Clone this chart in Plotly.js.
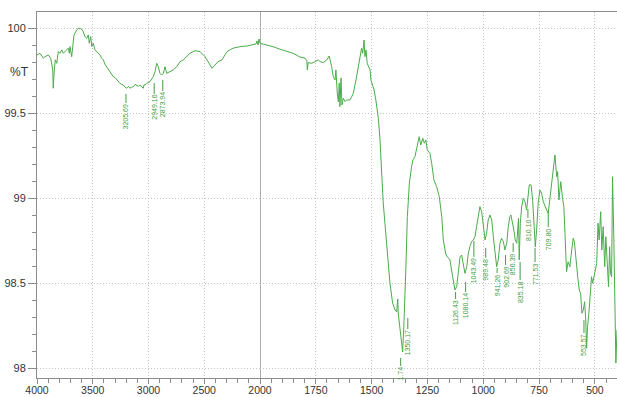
<!DOCTYPE html>
<html>
<head>
<meta charset="utf-8">
<script src="https://cdn.plot.ly/plotly-3.0.1.min.js"></script>
<style>html,body{margin:0;padding:0;background:#fff;}#chart{width:617px;height:397px;}</style>
</head>
<body>
<div id="chart"></div>
<script>
// Wavenumber (cm-1) and %T
const wavenumber = [
  4000,3973,3943,3928,3899,3877,3859,3854,3845,3836,
  3823,3809,3794,3778,3764,3749,3734,3719,3710,3704,
  3689,3680,3668,3644,3630,3614,3599,3585,3570,3554,
  3540,3531,3518,3509,3495,3480,3465,3450,3435,3420,
  3405,3390,3375,3360,3345,3330,3316,3300,3285,3270,
  3256,3240,3226,3210,3196,3180,3166,3150,3136,3120,
  3106,3090,3076,3060,3047,3040,3031,3016,3000,2987,
  2957,2942,2926,2912,2897,2882,2867,2852,2837,2807,
  2778,2747,2717,2688,2657,2628,2583,2538,2493,2466,
  2430,2403,2377,2341,2296,2242,2179,2116,2063,2036,
  2027,2018,2009,2000,
  1969,1942,1910,1879,1852,1821,1798,1790,1788,1784,
  1768,1754,1739,1731,1717,1701,1690,1679,1672,1664,
  1660,1654,1649,1645,1642,1637,1633,1627,1619,1612,
  1597,1589,1582,1570,1560,1552,1545,1540,1534,1530,
  1525,1520,1515,1507,1503,1495,1489,1481,1470,1463,
  1455,1448,1433,1418,1406,1395,1388,1383,1381,1373,
  1365,1361,1355,1351,1346,1340,1331,1321,1315,1306,
  1296,1287,1280,1271,1264,1257,1251,1239,1231,1221,
  1209,1197,1186,1179,1167,1157,1149,1142,1135,1127,
  1119,1112,1104,1097,1090,1082,1074,1067,1060,1052,
  1045,1037,1030,1022,1015,1007,1000,992,985,978,
  970,962,955,948,940,933,925,918,910,903,
  895,888,881,876,869,863,857,850,846,842,
  839,834,828,821,813,806,801,794,786,779,
  772,767,761,754,746,739,731,724,716,709,
  701,694,686,679,671,667,661,653,645,639,
  634,627,620,612,604,597,592,585,577,570,
  564,558,552,546,541,537,533,527,522,515,
  510,504,497,492,486,481,474,469,463,456,
  451,445,439,434,430,425,421,415,410,406,
  401
];
const transmittance = [
  99.845,99.855,99.826,99.835,99.845,99.826,99.757,99.649,99.757,99.816,
  99.796,99.865,99.855,99.875,99.855,99.865,99.875,99.885,99.855,99.894,
  99.835,99.914,99.963,99.992,100.002,100.002,99.996,99.982,99.953,99.943,
  99.963,99.914,99.953,99.894,99.914,99.875,99.865,99.855,99.845,99.826,
  99.816,99.790,99.776,99.760,99.747,99.735,99.717,99.712,99.698,99.690,
  99.678,99.672,99.668,99.655,99.649,99.660,99.649,99.655,99.658,99.672,
  99.668,99.660,99.668,99.655,99.649,99.670,99.668,99.678,99.685,99.688,
  99.717,99.747,99.796,99.776,99.737,99.727,99.737,99.776,99.737,99.747,
  99.757,99.776,99.806,99.816,99.835,99.855,99.870,99.865,99.835,99.806,
  99.767,99.786,99.806,99.816,99.865,99.885,99.894,99.898,99.904,99.910,
  99.928,99.904,99.939,99.914,
  99.904,99.894,99.879,99.865,99.855,99.833,99.826,99.810,99.757,99.800,
  99.796,99.806,99.816,99.806,99.800,99.816,99.839,99.776,99.717,99.698,
  99.757,99.621,99.570,99.680,99.541,99.710,99.551,99.590,99.570,99.580,
  99.580,99.600,99.620,99.698,99.776,99.835,99.885,99.855,99.933,99.835,
  99.875,99.796,99.776,99.757,99.698,99.658,99.639,99.580,99.472,99.356,
  99.109,98.974,98.738,98.502,98.385,98.343,98.333,98.408,98.326,98.226,
  98.108,98.096,98.274,98.402,98.620,98.893,99.091,99.187,99.227,99.246,
  99.305,99.364,99.315,99.355,99.325,99.345,99.286,99.266,99.207,99.109,
  99.070,99.011,98.893,98.756,98.667,98.648,98.638,98.579,98.520,98.461,
  98.481,98.579,98.657,98.667,98.618,98.559,98.598,98.677,98.716,98.746,
  98.756,98.775,98.834,98.913,98.952,98.922,98.834,98.756,98.795,98.873,
  98.903,98.873,98.775,98.677,98.598,98.638,98.736,98.766,98.746,98.697,
  98.736,98.834,98.893,98.903,98.863,98.814,98.756,98.736,98.814,98.883,
  98.638,98.854,98.952,99.001,98.981,98.932,98.991,99.080,99.080,98.991,
  98.834,98.716,98.814,98.972,99.050,99.031,98.981,98.952,98.932,98.913,
  99.011,99.109,99.207,99.256,99.128,99.158,98.991,99.099,99.001,98.952,
  98.795,98.569,98.628,98.598,98.697,98.766,98.746,98.638,98.539,98.461,
  98.442,98.324,98.343,98.392,98.284,98.118,98.245,98.324,98.402,98.539,
  98.501,98.549,98.598,98.618,98.854,98.756,98.922,98.697,98.834,98.598,
  98.775,98.657,98.481,98.716,98.559,98.539,99.128,98.756,98.402,98.031,
  98.226
];

// Peak labels
const peakText = ['3205.69','2949.16','2873.94','1.74','1350.17','1126.43','1080.14','1043.49','989.48','941.26','902.69','856.39','835.18','810.10','771.53','709.80','553.57'];
const peakWn   = [3202,2949,2872,1370,1338,1124,1079,1042,989,938,900,866,835,800,768,709,549];

// x-axis tick labels
const xTicksHigh = [4000,3500,3000,2500];
const xTicksLow  = [2000,1750,1500,1250,1000,750,500];

// label leader line placement (top, bottom in %T)
const leaderTop = [99.615,99.680,99.698,98.061,98.296,98.449,98.508,98.750,98.709,98.591,98.667,98.738,98.626,98.938,98.709,98.915,98.284];
const leaderBot = [99.562,99.615,99.633,98.014,98.231,98.408,98.449,98.656,98.650,98.561,98.608,98.685,98.520,98.885,98.626,98.832,98.208];

const green = '#4aac4a';
const labelGreen = '#3f9e3f';
const axisGray = '#8c8c8c';
const gridGray = '#c4c4c4';
const gridDash = '1px,2px';
const tickFont = {family:'Liberation Sans, Arial, sans-serif', size:11, color:'#333'};
const xTickFont = {family:'Liberation Sans Narrow, Arial Narrow, Liberation Sans, Arial, sans-serif', size:10.5, color:'#333'};

const traceBase = {x: wavenumber, y: transmittance, type:'scatter', mode:'lines',
  line:{color:green, width:1}, hoverinfo:'skip'};

const data = [
  Object.assign({}, traceBase, {xaxis:'x', yaxis:'y'}),
  Object.assign({}, traceBase, {xaxis:'x2', yaxis:'y'})
];

const split = 223/580;
function xAxisCfg(domain, range, tickvals, minorDtick){
  return {
    domain: domain, range: range, anchor:'y',
    tickmode:'array', tickvals: tickvals, ticktext: tickvals.map(String),
    ticks:'outside', ticklen:5, tickcolor:axisGray, tickwidth:1,
    ticklabelstandoff:-3,
    showline:true, linecolor:axisGray, linewidth:1, mirror:true,
    showgrid:true, gridcolor:gridGray, griddash:gridDash, gridwidth:1,
    zeroline:false, tickfont:xTickFont,
    minor:{tickmode:'linear', tick0:0, dtick:minorDtick, ticks:'outside', ticklen:4, tickcolor:axisGray, showgrid:false}
  };
}

const shapes = [
  {type:'line', xref:'x2', yref:'paper', x0:2000, x1:2000, y0:0, y1:1, line:{color:'#5a5a5a', width:1}, layer:'below'}
];
const annotations = [
  {xref:'paper', yref:'paper', x:-0.031, y:0.836, text:'%T', showarrow:false, xanchor:'center', yanchor:'middle',
   font:{family:'Liberation Sans, Arial, sans-serif', size:12, color:'#333'}}
];
peakText.forEach((t,i)=>{
  const ax = peakWn[i] >= 2000 ? 'x' : 'x2';
  shapes.push({type:'line', xref:ax, yref:'y', x0:peakWn[i], x1:peakWn[i], y0:leaderTop[i], y1:leaderBot[i],
    line:{color:labelGreen, width:1}});
  annotations.push({xref:ax, yref:'y', x:peakWn[i], y:leaderBot[i], text:t, textangle:-90, showarrow:false,
    xanchor:'center', yanchor:'top', borderpad:0,
    font:{family:'Liberation Sans, Arial, sans-serif', size:7, color:labelGreen}});
});

const layout = {
  width:617, height:397,
  margin:{l:37, r:0, t:12, b:19, pad:0},
  paper_bgcolor:'#fff', plot_bgcolor:'#fff',
  showlegend:false,
  xaxis: xAxisCfg([0, split], [4000, 2000], xTicksHigh, 100),
  xaxis2: xAxisCfg([split, 1], [2000, 401], xTicksLow, 50),
  yaxis: {
    range:[97.943, 100.098], tickmode:'linear', tick0:98, dtick:0.5,
    ticks:'outside', ticklen:8, tickcolor:axisGray, tickwidth:1,
    showline:true, linecolor:axisGray, linewidth:1,
    showgrid:true, gridcolor:gridGray, griddash:gridDash, gridwidth:1,
    zeroline:false, tickfont:tickFont,
    minor:{tickmode:'linear', tick0:98, dtick:0.1, ticks:'outside', ticklen:4, tickcolor:axisGray, showgrid:false}
  },
  shapes: shapes,
  annotations: annotations
};

Plotly.newPlot('chart', data, layout, {staticPlot:true, displayModeBar:false});
</script>
</body>
</html>
